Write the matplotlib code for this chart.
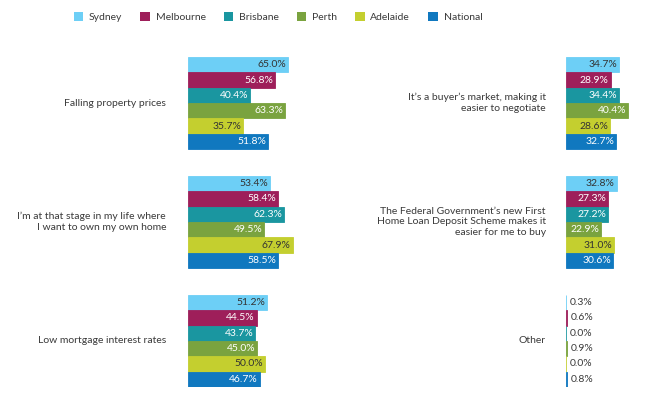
import matplotlib
matplotlib.use('Agg')
import matplotlib.pyplot as plt
from matplotlib.patches import Patch

plt.rcParams['font.family'] = ['Lato', 'DejaVu Sans']

cities = ['Sydney', 'Melbourne', 'Brisbane', 'Perth', 'Adelaide', 'National']
colors = ['#6dcff6', '#9e1f5a', '#1a96a0', '#7aa33f', '#c4cf2f', '#1078bf']
text_on_bar = ['#333333', 'white', 'white', 'white', '#333333', 'white']

left_labels = ['Falling property prices',
               "I\u2019m at that stage in my life where\nI want to own my own home",
               'Low mortgage interest rates']
left_values = [
    [65.0, 56.8, 40.4, 63.3, 35.7, 51.8],
    [53.4, 58.4, 62.3, 49.5, 67.9, 58.5],
    [51.2, 44.5, 43.7, 45.0, 50.0, 46.7],
]

right_labels = ["It\u2019s a buyer\u2019s market, making it\neasier to negotiate",
                "The Federal Government\u2019s new First\nHome Loan Deposit Scheme makes it\neasier for me to buy",
                'Other']
right_values = [
    [34.7, 28.9, 34.4, 40.4, 28.6, 32.7],
    [32.8, 27.3, 27.2, 22.9, 31.0, 30.6],
    [0.3, 0.6, 0.0, 0.9, 0.0, 0.8],
]

W, H = 645, 398
fig = plt.figure(figsize=(W / 100, H / 100), dpi=100)

group_gap = 7.75
px_per_pct = 1.54
ax_bottom = 1 - 387 / H
ax_height = (387 - 57) / H
text_col = '#3a3a3a'


def draw_panel(left_px, width_px, label_px, labels, values):
    ax = fig.add_axes([left_px / W, ax_bottom, width_px / W, ax_height])
    ax.set_xlim(0, width_px / px_per_pct)
    ax.set_ylim(2 * group_gap + 5.5, -0.5)
    ax.axis('off')
    for g, (lab, vals) in enumerate(zip(labels, values)):
        ys = [g * group_gap + i for i in range(len(vals))]
        ax.barh(ys, vals, height=1.0, color=colors, edgecolor=colors, linewidth=0.6)
        for y, v, tc in zip(ys, vals, text_on_bar):
            if v > 10:
                ax.text(v - 1.2, y, f'{v:.1f}%', ha='right', va='center',
                        fontsize=7.5, color=tc)
            else:
                ax.text(v + 2.2, y, f'{v:.1f}%', ha='left', va='center',
                        fontsize=7.5, color=text_col)
        yc = g * group_gap + 2.5
        yfig = ax.transData.transform((0, yc))[1] / fig.dpi / fig.get_figheight()
        fig.text(label_px / W, yfig, lab, ha='right', va='center',
                 fontsize=7.5, color=text_col, linespacing=1.25)
    return ax


draw_panel(188, 130, 166, left_labels, left_values)
draw_panel(566, 78, 546, right_labels, right_values)

handles = [Patch(facecolor=c, edgecolor='none') for c in colors]
fig.legend(handles, cities, loc='center', bbox_to_anchor=(0.431, 1 - 17 / H), ncol=6,
           frameon=False, fontsize=7.5, handlelength=0.9, handleheight=0.9,
           handletextpad=0.55, columnspacing=1.75, labelcolor=text_col)

fig.savefig('out.png', dpi=100)
